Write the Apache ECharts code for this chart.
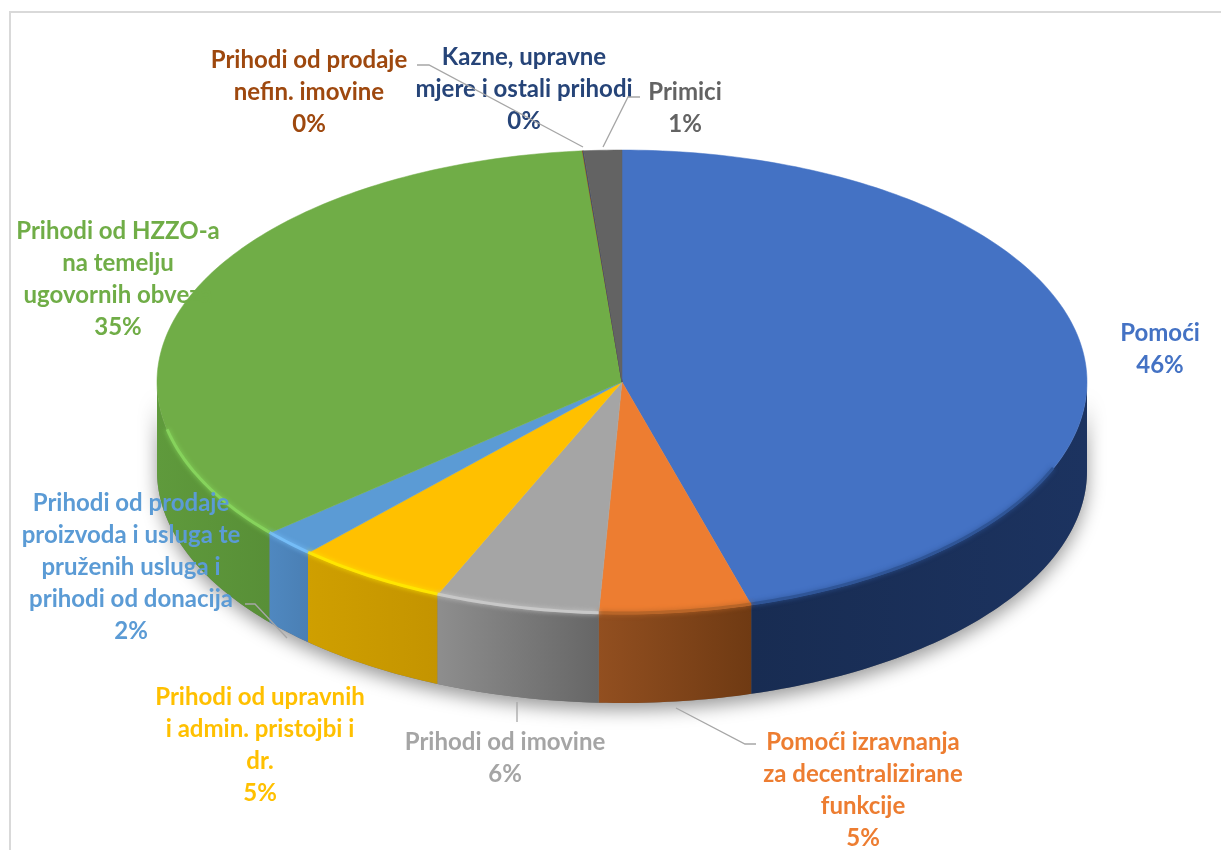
<!DOCTYPE html>
<html>
<head>
<meta charset="utf-8">
<style>
  html, body { margin: 0; padding: 0; background: #fff; }
  #chart { width: 1221px; height: 850px; }
</style>
<script src="https://cdn.jsdelivr.net/npm/echarts@6/dist/echarts.min.js"></script>
</head>
<body>
<div id="chart"></div>
<script>
// podaci ocitani sa slike
var categories = [
  'Pomoći',
  'Pomoći izravnanja\nza decentralizirane\nfunkcije',
  'Prihodi od imovine',
  'Prihodi od upravnih\ni admin. pristojbi i\ndr.',
  'Prihodi od prodaje\nproizvoda i usluga te\npruženih usluga i\nprihodi od donacija',
  'Prihodi od HZZO-a\nna temelju\nugovornih obveza',
  'Prihodi od prodaje\nnefin. imovine',
  'Kazne, upravne\nmjere i ostali prihodi',
  'Primici'
]
var values = [45.52, 5.28, 5.7, 5.3, 1.9, 34.94, 0.02, 0.02, 1.32]

// boje: gornja ploha, bok (lijevo, desno), rub
var topColors = ['#4472c4', '#ed7d31', '#a5a5a5', '#ffc000', '#5b9bd5', '#70ad47', '#9e480e', '#264478', '#636363']
var wallLeft = ['#1c3360', '#924f20', '#8e8e8e', '#cf9f00', '#4f88c0', '#5f9a3c', '#5e2b08', '#16294a', '#3d3d3d']
var wallRight = ['#182c52', '#6f3a13', '#666666', '#c49400', '#4a7fb4', '#588f37', '#5e2b08', '#16294a', '#3d3d3d']
var rimColors = ['#2f5597', '#b86528', '#c8c8c8', '#ffe600', '#75bdf7', '#86d35c', '#9e480e', '#264478', '#636363']

// polozaj natpisa: sredina teksta x, y
var labelPos = [
  [1160, 349], [863, 790], [505, 758], [260, 745], [131, 567],
  [118, 279], [309, 92], [524, 89], [685, 108]
]
// linije do natpisa
var leaderLines = [
  [[417, 65], [429, 65], [583, 147]],
  [[640, 97], [628, 97], [603, 147]],
  [[517, 702], [517, 722]],
  [[676, 708], [745, 744], [756, 744]],
  [[245, 604], [255, 604], [287, 638]]
]

var cx = 622, cy = 382, rx = 465, ry = 232, depth = 89
var total = values.reduce(function (a, b) { return a + b }, 0)

function pt(deg, dy) {
  var r = deg * Math.PI / 180
  return [cx + rx * Math.sin(r), cy - ry * Math.cos(r) + (dy || 0)]
}
function arc(a, b, dy) {
  var out = []
  var n = Math.max(1, Math.ceil(Math.abs(b - a)))
  for (var i = 0; i <= n; i++) out.push(pt(a + (b - a) * i / n, dy))
  return out
}
function angles(i) {
  var s = 0
  for (var k = 0; k < i; k++) s += values[k]
  return [s / total * 360, (s + values[i]) / total * 360]
}
// prednji dio ploce vidljiv je samo od 90 do 270 stupnjeva
function front(i) {
  var a = angles(i)
  var s = Math.max(a[0], 90), e = Math.min(a[1], 270)
  return e > s ? [s, e] : null
}

var sliceData = values.map(function (v, i) { return [i, v] })

var option = {
  backgroundColor: '#ffffff',
  animation: false,
  graphic: [{
    type: 'polyline',
    silent: true,
    shape: { points: [[10, 850], [10, 12], [1221, 12]] },
    style: { stroke: '#d9d9d9', lineWidth: 2, fill: null }
  }],
  series: [
    { // sjena ispod ploce
      type: 'custom',
      coordinateSystem: 'none',
      silent: true,
      data: [[0]],
      renderItem: function () {
        return {
          type: 'polygon',
          shape: { points: arc(90, 270, 0).concat(arc(270, 90, depth)) },
          style: { fill: '#777', shadowBlur: 18, shadowOffsetY: 7, shadowColor: 'rgba(0,0,0,0.4)' }
        }
      }
    },
    { // bok
      type: 'custom',
      coordinateSystem: 'none',
      silent: true,
      data: sliceData,
      renderItem: function (params, api) {
        var i = api.value(0)
        var f = front(i)
        if (!f) return null
        return {
          type: 'polygon',
          shape: { points: arc(f[0], f[1], 0).concat(arc(f[1], f[0], depth)) },
          style: {
            fill: new echarts.graphic.LinearGradient(0, 0, 1, 0, i === 0 ? [
              { offset: 0, color: wallRight[i] }, { offset: 1, color: wallLeft[i] }
            ] : [
              { offset: 0, color: wallLeft[i] }, { offset: 1, color: wallRight[i] }
            ])
          }
        }
      }
    },
    { // gornja ploha
      type: 'custom',
      coordinateSystem: 'none',
      silent: true,
      data: sliceData,
      renderItem: function (params, api) {
        var i = api.value(0)
        var a = angles(i)
        return {
          type: 'polygon',
          shape: { points: [[cx, cy]].concat(arc(a[0], a[1], 0)) },
          style: { fill: topColors[i], stroke: topColors[i], lineWidth: 0.5 }
        }
      }
    },
    { // svijetli rub, ne ide do samih krajeva ploce
      type: 'custom',
      coordinateSystem: 'none',
      silent: true,
      data: sliceData,
      renderItem: function (params, api) {
        var i = api.value(0)
        var f = front(i)
        if (!f) return null
        var s = Math.max(f[0], 112), e = Math.min(f[1], 258)
        if (e <= s) return null
        return {
          type: 'polyline',
          shape: { points: arc(s, e, -1) },
          style: { fill: null, stroke: rimColors[i], lineWidth: 3, shadowBlur: 5, shadowColor: rimColors[i] }
        }
      }
    },
    { // natpisi
      type: 'custom',
      coordinateSystem: 'none',
      silent: true,
      data: sliceData,
      renderItem: function (params, api) {
        var i = api.value(0)
        return {
          type: 'text',
          style: {
            x: labelPos[i][0],
            y: labelPos[i][1],
            text: categories[i] + '\n' + Math.round(values[i] / total * 100) + '%',
            fill: topColors[i],
            font: 'bold 24px Lato',
            lineHeight: 32,
            align: 'center',
            verticalAlign: 'middle'
          }
        }
      }
    },
    { // linije
      type: 'custom',
      coordinateSystem: 'none',
      silent: true,
      data: leaderLines.map(function (l, i) { return [i] }),
      renderItem: function (params, api) {
        return {
          type: 'polyline',
          shape: { points: leaderLines[api.value(0)] },
          style: { fill: null, stroke: '#a6a6a6', lineWidth: 1.3 }
        }
      }
    }
  ]
}

var chart = echarts.init(document.getElementById('chart'))
chart.setOption(option)
</script>
</body>
</html>
